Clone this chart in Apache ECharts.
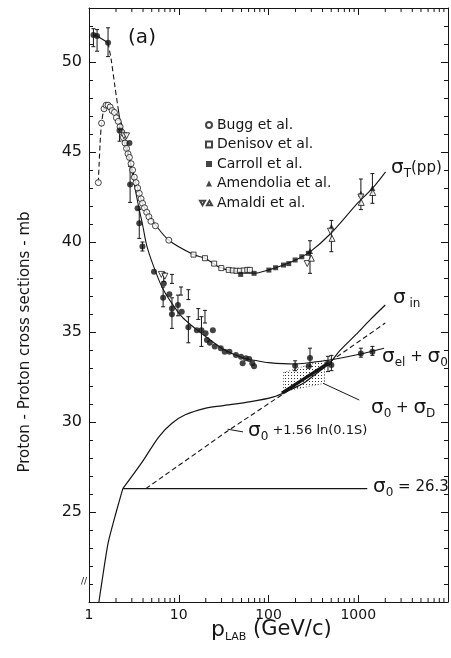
<!DOCTYPE html>
<html>
<head>
<meta charset="utf-8">
<script src="https://cdn.jsdelivr.net/npm/echarts@6/dist/echarts.min.js"></script>
<style>html,body{margin:0;padding:0;background:#fff}#chart{width:451px;height:658px}</style>
</head>
<body>
<div id="chart"></div>
<script>
// data: [p_lab GeV/c, sigma mb]
var BUGG = [[1.27,43.3],[1.38,46.6],[1.47,47.4],[1.55,47.6],[1.63,47.6],[1.72,47.5],[1.81,47.3],[1.92,47.2],
    [2.02,46.9],[2.12,46.7],[2.22,46.4],[2.32,46.1],[2.42,45.8],[2.52,45.5],[2.62,45.2],[2.72,44.9],[2.82,44.7],
    [2.94,44.35],[3.06,44.0],[3.2,43.6],[3.34,43.3],[3.48,43.0],[3.63,42.7],[3.8,42.4],[3.95,42.15],[4.15,41.9],
    [4.4,41.65],[4.65,41.4],[4.9,41.15],[5.5,40.9],[7.75,40.1]];
var DENISOV = [[14.6,39.3],[19.6,39.1],[24.8,38.8],[29.8,38.55],[36,38.45],[40,38.42],[44,38.4],[48,38.4],[53,38.42],[58,38.45],[62,38.45]];
var CARROLL = [[49,38.2],[69,38.26],[101,38.44],[120,38.57],[147,38.72],[168,38.8],[198,39.0],[235,39.18],[278,39.37]];
var AMENDOLIA = [[290,39.5],[502,40.85],[1070,42.7],[1438,43.0]];
var AMALDI_DOWN = [[2.45,45.9],[2.62,45.9],[6.4,38.2],[7.0,38.1],[270,38.8],[490,40.6],[1070,42.5]];
var AMALDI_UP = [[300,39.1],[510,40.2],[1080,42.2],[1450,42.75]];
var FILLED = [[1.12,51.5],[1.23,51.44],[1.63,51.07],[2.19,46.2],[2.82,45.5],[2.87,43.2],[3.48,41.87],[3.63,41.04],
    [3.94,39.75],[5.3,38.35],[6.82,37.7],[6.7,36.9],[7.86,37.1],[8.4,36.3],[8.4,35.98],[9.8,36.5],[10.8,36.13],
    [12.8,35.26],[15.9,35.1],[17.9,35.1],[19.9,34.93],[20.6,34.56],[22.2,34.4],[24,35.1],[25.2,34.2],[29.4,34.1],
    [32.5,33.9],[36.7,33.9],[43.4,33.72],[49.4,33.63],[51.5,33.26],[56,33.54],[61,33.5],[66,33.26],[69,33.1],
    [198,33.13],[280,33.1],[290,33.55],[460,33.26],[502,33.17],[1070,33.8],[1438,33.9]];
// [p, low, high]
var ERRORS = [[1.12,50.85,51.85],[1.23,50.6,51.8],[1.63,50.3,51.9],[2.19,45.6,46.6],[2.87,42.2,44.2],[3.63,40.2,41.8],
    [3.94,39.5,40.0],[6.7,36.4,37.5],[8.4,35.2,36.9],[9.8,35.9,37.05],[12.8,34.4,35.85],[17.9,34.2,35.85],
    [6.8,37.8,38.3],[8.4,37.7,38.2],[10.6,37.05,37.5],[12.8,36.8,37.35],[16.5,35.7,36.3],[19.6,35.5,36.2],
    [198,32.85,33.4],[290,33.1,34.1],[460,32.8,33.65],[502,32.85,33.7],[1070,33.6,34.1],[1438,33.7,34.2],
    [290,38.26,40.07],[502,39.46,41.2],[1070,41.8,43.5],[1438,42.15,43.8]];

var SIGMA_T_DASH = [[1.27,43.3],[1.33,45.5],[1.38,46.6],[1.47,47.4],[1.55,47.6],[1.65,47.6]];
var SIGMA_T = [[1.65,47.6],[1.8,47.35],[2.1,47.0],[2.28,46.6],[2.59,45.5],[2.82,44.7],[3.06,44.0],[3.34,43.26],
    [3.63,42.7],[3.94,42.15],[4.48,41.6],[5.53,40.94],[7.75,40.1],[14.6,39.3],[19.6,39.1],[29.8,38.55],[49.4,38.3],
    [69,38.26],[101,38.45],[147,38.72],[200,39.0],[290,39.45],[500,40.5],[1000,42.2],[1438,42.98],[2015,43.9]];
var SIGMA_EL_TOP = [[1.12,51.5],[1.23,51.44],[1.63,51.07]];
var SIGMA_EL_DASH = [[1.63,51.07],[1.77,50.1],[1.95,48.6],[2.1,47.5]];
var SIGMA_EL = [[2.1,47.5],[2.28,46.4],[2.48,45.5],[2.82,44.56],[3.06,43.7],[3.34,42.7],[3.63,41.8],[3.94,41.0],
    [4.4,39.8],[5.2,38.7],[6.5,37.5],[8.1,36.7],[10.8,35.85],[15.2,35.2],[21.2,34.65],[32.5,34.0],[53.7,33.54],
    [75,33.4],[100,33.3],[190,33.22],[290,33.3],[480,33.44],[940,33.72],[1940,34.1]];
var SIGMA_IN_LOW = [[1.29,20.0],[1.63,23.26],[2.01,25.0],[2.38,26.3]];
var SIGMA_IN = [[2.38,26.3],[3.94,27.8],[6.0,29.18],[8.4,29.93],[11.8,30.4],[19.6,30.76],[30,30.9],[63.5,31.13],
    [114,31.4],[160,31.7],[244,32.15],[343,32.7],[480,33.26],[620,33.95],[940,34.85],[1370,35.7],[2000,36.5]];
var SIGMA_LN = [[4.3,26.3],[35,29.5],[150,31.6],[500,33.4],[2000,35.5]];
var SIGMA_0 = [[2.38,26.3],[1260,26.3]];
var THICK = [[141,31.6],[460,33.26]];
var DIFF_BOX = [[147,32.75],[420,33.44],[420,32.15],[147,31.7]];
var ARROW = [[1026,31.22],[406,32.15]];
var LN_LEADER = [[35,29.6],[52,29.45]];
var X_MINOR = [2,3,4,5,6,7,8,9,20,30,40,50,60,70,80,90,200,300,400,500,600,700,800,900,2000,3000,4000,5000,6000,7000,8000,9000];

var FONT = 'DejaVu Sans';
var INK = '#151515';

var myChart = echarts.init(document.getElementById('chart'));

// stipple for the shaded band
var dots = document.createElement('canvas');
dots.width = 3; dots.height = 3;
var dctx = dots.getContext('2d');
dctx.fillStyle = '#333';
dctx.fillRect(0, 0, 1, 1);

var lineSeries = function(data, dashed, width, smooth) {
    return {
        type: 'line', data: data, symbol: 'none', smooth: smooth, z: 2, silent: true,
        lineStyle: { color: INK, width: width || 1.1, type: dashed ? [5, 3] : 'solid' }
    };
};
var hollow = { color: '#fff', borderColor: INK, borderWidth: 1 };
var filled = { color: INK };

var rich = {
    s: { fontSize: 20, fontFamily: FONT, lineHeight: 24, color: INK },
    sub: { fontSize: 12, fontFamily: FONT, lineHeight: 24, verticalAlign: 'bottom', color: INK },
    t: { fontSize: 15, fontFamily: FONT, lineHeight: 24, color: INK },
    u: { fontSize: 13, fontFamily: FONT, lineHeight: 24, color: INK }
};
var note = function(x, y, text) {
    return { type: 'text', x: x, y: y, z: 10, style: { text: text, rich: rich, verticalAlign: 'middle', fill: INK } };
};

var option = {
    animation: false,
    grid: { left: 89, top: 8, width: 364, height: 594 },
    xAxis: [
        {
            type: 'log', logBase: 10, min: 1, max: 10000,
            axisLine: { lineStyle: { color: INK } },
            axisTick: { inside: true, length: 7, lineStyle: { color: INK } },
            axisLabel: { fontSize: 14, fontFamily: FONT, color: INK, margin: 6,
                formatter: function(v) { return v >= 10000 ? '' : v; } },
            splitLine: { show: false }
        },
        {
            type: 'log', logBase: 10, min: 1, max: 10000, position: 'top',
            axisLine: { lineStyle: { color: INK } },
            axisTick: { inside: true, length: 7, lineStyle: { color: INK } },
            axisLabel: { show: false }, splitLine: { show: false }
        }
    ],
    yAxis: [
        {
            type: 'value', min: 20, max: 53, interval: 5,
            axisLine: { show: true, lineStyle: { color: INK } },
            axisTick: { inside: true, length: 7, lineStyle: { color: INK } },
            minorTick: { show: true, splitNumber: 5, length: 4, lineStyle: { color: INK } },
            axisLabel: { fontSize: 16, fontFamily: FONT, color: INK, margin: 7,
                formatter: function(v) { return (v === 20 || v === 53) ? '' : v; } },
            splitLine: { show: false }
        },
        {
            type: 'value', min: 20, max: 53, interval: 5, position: 'right',
            axisLine: { show: true, lineStyle: { color: INK } },
            axisTick: { inside: true, length: 7, lineStyle: { color: INK } },
            minorTick: { show: true, splitNumber: 5, length: 4, lineStyle: { color: INK } },
            axisLabel: { show: false }, splitLine: { show: false }
        }
    ],
    legend: [
        {
            orient: 'vertical', left: 205, top: 118, padding: 0, itemGap: 5.5,
            itemWidth: 6, itemHeight: 6, selectedMode: false,
            textStyle: { fontSize: 14, fontFamily: FONT, color: INK },
            data: ['Bugg et al.', 'Denisov et al.', 'Carroll et al.', 'Amendolia et al.']
        },
        {
            orient: 'vertical', left: 199, top: 196, padding: 0,
            itemWidth: 12, itemHeight: 6, selectedMode: false,
            textStyle: { fontSize: 14, fontFamily: FONT, color: INK },
            data: [{ name: 'Amaldi et al.', icon: 'path://M0,0 L8,0 L4,7 Z M11,7 L19,7 L15,0 Z' }]
        }
    ],
    series: [
        lineSeries(SIGMA_T_DASH, true, 1.1, 0.3),
        lineSeries(SIGMA_T, false, 1.1, 0.3),
        lineSeries(SIGMA_EL_TOP, false, 1.1, false),
        lineSeries(SIGMA_EL_DASH, true, 1.1, 0.3),
        lineSeries(SIGMA_EL, false, 1.1, 0.3),
        lineSeries(SIGMA_IN_LOW, false, 1.2, 0.2),
        lineSeries(SIGMA_IN, false, 1.2, 0.3),
        lineSeries(SIGMA_LN, true, 1.1, false),
        (function() {
            var s = lineSeries(SIGMA_0, false, 1.1, false);
            s.markLine = {
                silent: true, symbol: ['none', 'arrow'], symbolSize: [0, 7],
                label: { show: false },
                lineStyle: { color: INK, width: 1, type: 'solid' },
                data: [
                    [{ coord: ARROW[0] }, { coord: ARROW[1] }],
                    [{ coord: LN_LEADER[0], symbol: 'none' }, { coord: LN_LEADER[1], symbol: 'none' }]
                ]
            };
            return s;
        })(),
        lineSeries(THICK, false, 3.2, false),
        {
            type: 'custom', silent: true, z: 1,
            data: [0],
            renderItem: function(params, api) {
                var pts = DIFF_BOX.map(function(d) { return api.coord(d); });
                return {
                    type: 'polygon', shape: { points: pts },
                    style: { fill: { image: dots, repeat: 'repeat' }, stroke: '#333', lineWidth: 0.8, lineDash: [1, 2] }
                };
            }
        },
        {
            type: 'custom', silent: true, z: 2,
            data: ERRORS,
            encode: { x: 0, y: [1, 2] },
            renderItem: function(params, api) {
                var a = api.coord([api.value(0), api.value(1)]);
                var b = api.coord([api.value(0), api.value(2)]);
                var st = { stroke: INK, lineWidth: 1 };
                return {
                    type: 'group', children: [
                        { type: 'line', shape: { x1: a[0], y1: a[1], x2: b[0], y2: b[1] }, style: st },
                        { type: 'line', shape: { x1: a[0] - 2, y1: a[1], x2: a[0] + 2, y2: a[1] }, style: st },
                        { type: 'line', shape: { x1: b[0] - 2, y1: b[1], x2: b[0] + 2, y2: b[1] }, style: st }
                    ]
                };
            }
        },
        { name: 'Bugg et al.', type: 'scatter', data: BUGG, symbol: 'circle', symbolSize: 6, z: 3, itemStyle: hollow },
        { name: 'Denisov et al.', type: 'scatter', data: DENISOV, symbol: 'rect', symbolSize: 5, z: 3, itemStyle: hollow },
        { name: 'Carroll et al.', type: 'scatter', data: CARROLL, symbol: 'rect', symbolSize: 5, z: 3, itemStyle: filled },
        { name: 'Amendolia et al.', type: 'scatter', data: AMENDOLIA, symbol: 'triangle', symbolSize: 6, z: 3, itemStyle: filled },
        { name: 'Amaldi et al.', type: 'scatter', data: AMALDI_DOWN, symbol: 'path://M0,0 L10,0 L5,9 Z', symbolSize: 6, z: 3, itemStyle: hollow },
        { name: 'Amaldi et al.', type: 'scatter', data: AMALDI_UP, symbol: 'triangle', symbolSize: 6, z: 3, itemStyle: hollow },
        { name: 'filled', type: 'scatter', data: FILLED, symbol: 'circle', symbolSize: 6, z: 4, itemStyle: filled },
        {
            // log minor ticks, bottom and top
            type: 'custom', silent: true, z: 5,
            data: X_MINOR,
            encode: { x: 0 },
            renderItem: function(params, api) {
                var lo = api.coord([api.value(0), 20]);
                var hi = api.coord([api.value(0), 53]);
                var st = { stroke: INK, lineWidth: 1 };
                return {
                    type: 'group', children: [
                        { type: 'line', shape: { x1: lo[0], y1: lo[1], x2: lo[0], y2: lo[1] - 4 }, style: st },
                        { type: 'line', shape: { x1: hi[0], y1: hi[1], x2: hi[0], y2: hi[1] + 4 }, style: st }
                    ]
                };
            }
        }
    ],
    graphic: [
        { type: 'text', x: 142, y: 38, style: { text: '(a)', font: '20px ' + FONT, fill: INK, align: 'center', verticalAlign: 'middle' } },
        { type: 'text', x: 25, y: 342, rotation: Math.PI / 2,
          style: { text: 'Proton - Proton cross sections - mb', font: '15px ' + FONT, fill: INK, align: 'center', verticalAlign: 'middle' } },
        { type: 'text', x: 211, y: 630,
          style: { text: '{p|p}{l|LAB}{g| (GeV/c)}', verticalAlign: 'middle', fill: INK,
              rich: { p: { fontSize: 22, fontFamily: FONT, lineHeight: 26, color: INK },
                      l: { fontSize: 11, fontFamily: FONT, lineHeight: 26, verticalAlign: 'bottom', color: INK },
                      g: { fontSize: 21, fontFamily: FONT, lineHeight: 26, color: INK } } } },
        { type: 'text', x: 84, y: 582, style: { text: '//', font: '9px ' + FONT, fill: INK, align: 'center', verticalAlign: 'middle' } },
        note(391, 168, '{s|σ}{sub|T}{t|(pp)}'),
        note(393, 298, '{s|σ}{sub| in}'),
        note(382, 357, '{s|σ}{sub|el}{t| + }{s|σ}{sub|0}'),
        note(371, 408, '{s|σ}{sub|0}{t| + }{s|σ}{sub|D}'),
        note(248, 431, '{s|σ}{sub|0}{u| +1.56 ln(0.1S)}'),
        note(373, 487, '{s|σ}{sub|0}{t| = 26.3}')
    ]
};
myChart.setOption(option);
</script>
</body>
</html>
